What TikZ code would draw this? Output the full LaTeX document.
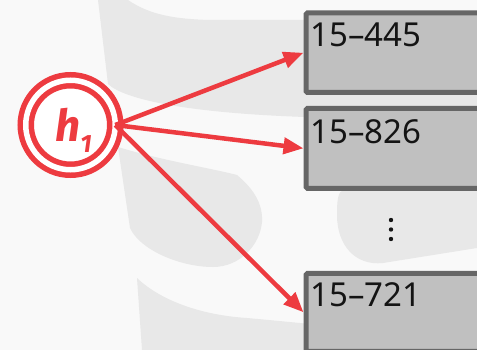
\documentclass[tikz,border=0pt]{standalone}
\usepackage{fontspec}
\newfontfamily\hfont{Fira Sans}
\newfontfamily\boxfont{Noto Sans}
\usetikzlibrary{arrows.meta}
\definecolor{hred}{RGB}{237,59,64}
\definecolor{bgc}{RGB}{249,249,249}
\definecolor{wmc}{RGB}{232,232,232}
\definecolor{boxfill}{RGB}{192,192,192}
\definecolor{boxline}{RGB}{102,102,102}
\definecolor{txt}{RGB}{20,20,20}
\tikzset{
  hnode/.style={circle, draw=hred, line width=5.5pt, double=white, double distance=5.5pt,
    fill=white, minimum size=89.5pt, inner sep=0pt, outer sep=0pt, text=hred},
  boxnode/.style={rectangle, draw=boxline, fill=boxfill, line width=5pt, rounded corners=1.5pt,
    minimum width=174pt, inner sep=0pt, anchor=north west},
  lbl/.style={font=\boxfont\fontsize{33}{33}\selectfont, inner sep=0pt, text=txt, anchor=base west},
  arr/.style={draw=hred, line width=4.5pt, -{Triangle[length=20pt,width=16pt]}},
  wm/.style={fill=wmc}
}
\begin{document}
\begin{tikzpicture}[x=1pt,y=-1pt]
\useasboundingbox (0,0) rectangle (477,350);
\fill[bgc] (0,0) rectangle (477,350);
% watermark
\fill[wm] (98,0) -- (128,0) .. controls (150,15) and (175,19) .. (210,20) -- (477,20)
  -- (477,117) -- (305,117) .. controls (190,113) and (125,100) .. (108,84) -- cycle;
\fill[wm] (118,147) .. controls (160,160) and (210,168) .. (237,175)
  .. controls (255,190) and (263,205) .. (262,222)
  .. controls (260,245) and (240,267) .. (213,267)
  .. controls (180,267) and (140,250) .. (130,228) -- cycle;
\fill[wm] (343,190) -- (477,190) -- (477,248) -- (383,263)
  .. controls (355,266) and (337,245) .. (337,215)
  .. controls (337,200) and (338,192) .. (343,190) -- cycle;
\fill[wm] (137,278) .. controls (160,300) and (200,315) .. (247,318)
  .. controls (280,321) and (300,323) .. (320,325) -- (477,330) -- (477,350) -- (142,350) -- cycle;
% boxes
\node[boxnode, minimum height=79.5pt] (b1) at (303.5,10.5) {};
\node[boxnode, minimum height=80pt] (b2) at (303.5,105.8) {};
\node[boxnode, minimum height=78pt] (b3) at (303.5,270.8) {};
\node[lbl] (t1) at (310.5,46.7) {15\textendash 445};
\node[lbl] (t2) at (310.5,143.3) {15\textendash 826};
\node[lbl] (t3) at (310.5,306.2) {15\textendash 721};
% dots
\fill[txt] (391,220) circle (2.2);
\fill[txt] (391,229.5) circle (2.2);
\fill[txt] (391,239) circle (2.2);
% hash node
\node[hnode] (h) at (70.5,125) {\smash{\raisebox{-17pt}{\hspace{6pt}\hfont\bfseries\itshape\fontsize{44}{44}\selectfont h\fontsize{25}{25}\selectfont\raisebox{-11pt}{1}}}};
% arrows
\draw[arr] (h.east) -- (b1.west);
\draw[arr] (h.east) -- (b2.west);
\draw[arr] (h.east) -- (b3.west);
\end{tikzpicture}
\end{document}
